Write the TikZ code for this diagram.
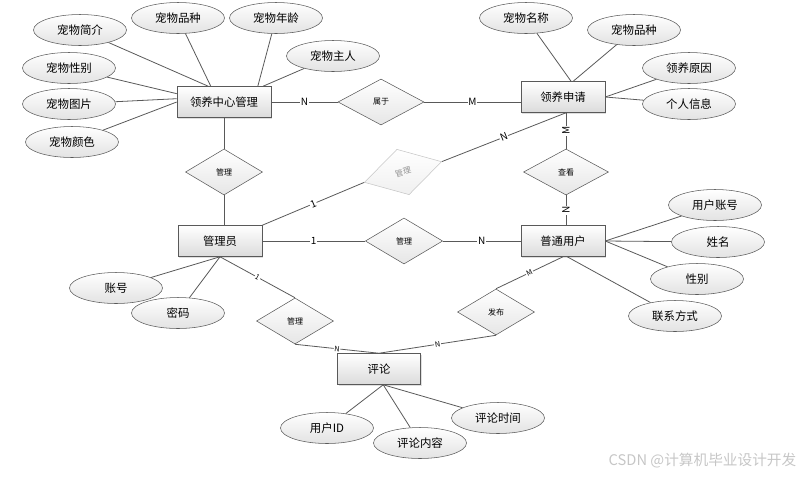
\documentclass[tikz,border=0pt]{standalone}
\usepackage{fontspec}
\setmainfont{Noto Sans CJK SC}
\usetikzlibrary{shapes.geometric,shadows}
\definecolor{linegray}{rgb}{0.35,0.35,0.35}
\definecolor{fillgray}{rgb}{0.86,0.86,0.86}
\tikzset{
    entity/.style={draw=linegray, rectangle, top color=white, bottom color=fillgray,
        minimum width=63pt, minimum height=23.25pt, inner sep=1pt,
        font=\fontsize{8.5}{10}\selectfont,
        drop shadow={opacity=0.25, shadow xshift=1pt, shadow yshift=-1pt}},
    attr/.style={draw=linegray, ellipse, top color=white, bottom color=fillgray!80,
        minimum width=69.75pt, minimum height=23.25pt, inner sep=0pt,
        font=\fontsize{8.6}{10}\selectfont},
    rel/.style={draw=linegray, diamond, top color=white, bottom color=fillgray!70,
        minimum width=57.75pt, minimum height=34.5pt, inner sep=0pt,
        font=\fontsize{6}{7}\selectfont},
    card/.style={fill=white, inner sep=0.6pt, font=\fontsize{7.5}{8}\selectfont},
    smallcard/.style={card, sloped, font=\fontsize{5.5}{6}\selectfont},
    link/.style={draw=linegray, line width=0.6pt}
}

\begin{document}
\begin{tikzpicture}[x=0.75pt, y=-0.75pt]
    \useasboundingbox (0,0) rectangle (810,476);

    % Entities
    \node[entity, minimum width=70.5pt] (lyzx) at (224,102) {领养中心管理};
    \node[entity] (lysq) at (563,97) {领养申请};
    \node[entity] (gly) at (220,241) {管理员};
    \node[entity] (ptyh) at (563,241) {普通用户};
    \node[entity, minimum width=62pt] (pl) at (379,369) {评论};

    % Relations
    \node[rel, minimum width=64.5pt] (sy) at (381,102) {属于};
    \node[rel] (gla) at (224,172) {管理};
    \node[rel, minimum width=63.75pt] (ck) at (566,172) {查看};
    \node[rel, minimum width=58pt] (glb) at (404,241) {管理};
    \node[rel] (glc) at (295,321) {管理};
    \node[rel] (fb) at (496,312) {发布};
    % grey tilted diamond
    \node[rel, rotate=15, minimum width=60pt, minimum height=35.25pt,
        draw=gray!45, bottom color=gray!12, text=gray!85] (glgray) at (403,172) {管理};

    % Attributes
    \foreach \name/\x/\y/\txt in {jj/80/30/宠物简介, pza/178/18/宠物品种, nl/276/18/宠物年龄,
        zr/333/56/宠物主人, xb/69/68/宠物性别, tp/69/104/宠物图片, ys/72/142/宠物颜色,
        mc/526/18/宠物名称, pzb/634/30/宠物品种, yy/689/68/领养原因, gr/689/104/个人信息,
        zh/715/205/用户账号, xm/718/242/姓名, xbb/697/279/性别, lx/675/316/联系方式,
        zhh/116/288/账号, mm/178/313/密码,
        yhid/327/428/用户ID, nr/420/443/评论内容, sj/498/418/评论时间}
    \node[attr] (\name) at (\x,\y) {\txt};

    % Attribute links
    \foreach \a/\b in {jj/lyzx.135, pza/lyzx.130, nl/lyzx.25, zr/lyzx.22,
        xb/lyzx.170, tp/lyzx.176, ys/lyzx.180,
        mc/lysq.63, pzb/lysq.57, yy/lysq.east, gr/lysq.east,
        zh/ptyh.east, xm/ptyh.east, xbb/ptyh.east, lx/ptyh.-75,
        zhh/gly.south, mm/gly.south,
        yhid/pl.-75, nr/pl.-75, sj/pl.-75}
    \draw[link] (\a) -- (\b);

    % Relation links
    \draw[link] (lyzx) -- node[card] {N} (sy);
    \draw[link] (sy) -- node[card] {M} (sy -| lysq.west);
    \draw[link] (lyzx) -- (gla);
    \draw[link] (gla) -- (gla |- gly.north);
    \draw[link] (gly.north east) -- node[card, sloped] {1} (glgray.west);
    \draw[link] (glgray.east) -- node[card, sloped] {N} (ck |- lysq.south);
    \draw[link] (ck) -- node[card, rotate=90] {M} (ck |- lysq.south);
    \draw[link] (ck) -- node[card, rotate=90] {N} (ck |- ptyh.north);
    \draw[link] (gly) -- node[card] {1} (glb);
    \draw[link] (glb) -- node[card] {N} (ptyh);
    \draw[link] (gly.south) -- node[smallcard] {1} (glc.north);
    \draw[link] (glc.south) -- node[smallcard] {N} (pl.north);
    \draw[link] (ptyh.south) -- node[smallcard] {M} (fb.north);
    \draw[link] (fb.south) -- node[smallcard] {N} (pl.north);

    % watermark
    \node[text=gray!45, font=\fontsize{11}{12}\selectfont, anchor=east] (mark) at (801,461) {CSDN @计算机毕业设计开发};
\end{tikzpicture}
\end{document}
